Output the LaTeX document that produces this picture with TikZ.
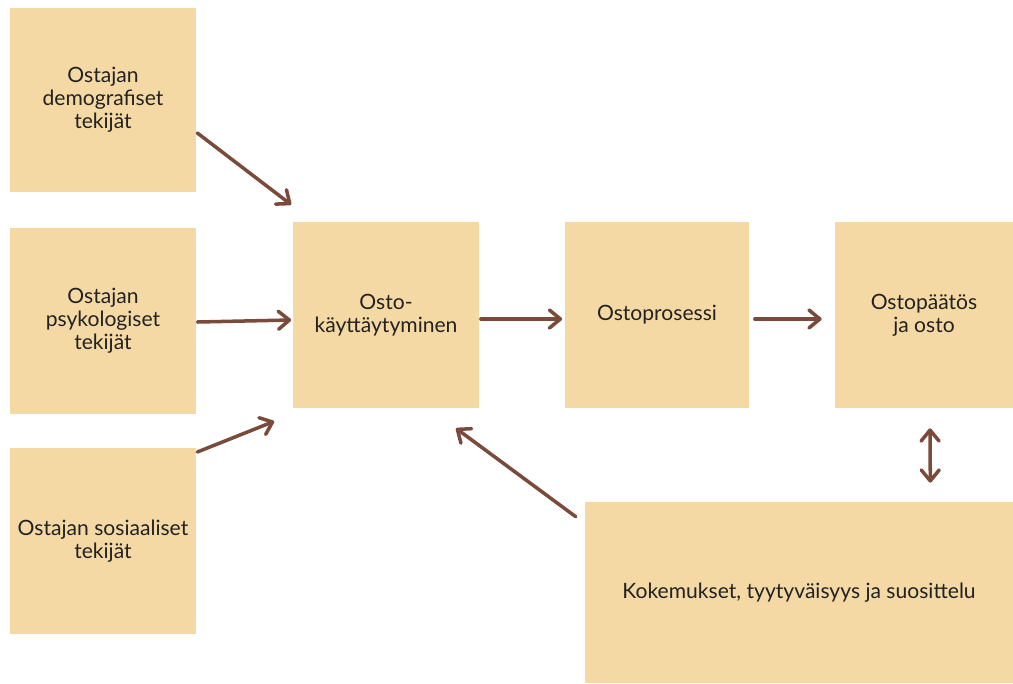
\documentclass[tikz,border=0pt]{standalone}
\usepackage{fontspec}
\setmainfont{Lato}
\usepackage{tikz}
\usetikzlibrary{arrows.meta,calc,positioning}
\definecolor{boxfill}{HTML}{F5D9A4}
\definecolor{arrowbrown}{HTML}{7A4B3B}
\definecolor{textdark}{HTML}{222222}

\begin{document}
\begin{tikzpicture}[x=0.02cm,y=-0.02cm,
  box/.style={fill=boxfill, draw=none, inner sep=0pt, align=center, text=textdark, font=\fontsize{12}{13.1}\selectfont},
  flow/.style={arrowbrown, line width=2pt, line cap=round, -{Straight Barb[length=2.2mm,width=3.6mm,round]}},
  flowboth/.style={flow, {Straight Barb[length=2.2mm,width=3.6mm,round]}-{Straight Barb[length=2.2mm,width=3.6mm,round]}}]
\useasboundingbox (0,0) rectangle (1013,683);
\node [box, minimum width=3.72cm, minimum height=3.7cm] (demog) at (103,100) {Ostajan\\demografiset\\tekijät};
\node [box, minimum width=3.72cm, minimum height=3.72cm] (psyk) at (103,321) {Ostajan\\psykologiset\\tekijät};
\node [box, minimum width=3.72cm, minimum height=3.74cm] (sos) at (103,541) {Ostajan sosiaaliset\\tekijät};
\node [box, minimum width=3.74cm, minimum height=3.72cm] (kayt) at (386,315) {Osto-\\käyttäytyminen};
\node [box, minimum width=3.7cm, minimum height=3.72cm] (prosessi) at (657,315) {Ostoprosessi};
\node [box, minimum width=3.56cm, minimum height=3.72cm] (paatos) at (924,315) {Ostopäätös\\ja osto};
\node [box, minimum width=8.56cm, minimum height=3.62cm] (kokemus) at (799,592.5) {Kokemukset, tyytyväisyys ja suosittelu};
\draw[flow] ($(demog.east)+(1,33)$) -- ($(kayt.north west)+(-1,-17)$);
\draw[flow] ($(psyk.east)+(1,1)$) -- ($(kayt.west)+(-1,5)$);
\draw[flow] ($(sos.east)+(1,-89)$) -- ($(kayt.south west)+(-18,13)$);
\draw[flow] ($(kayt.east)+(1,4)$) -- ($(prosessi.west)+(-2,4)$);
\draw[flow] ($(prosessi.east)+(5,4)$) -- ($(paatos.west)+(-13,4)$);
\draw[flowboth] ($(paatos.south)+(6,20)$) -- ($(kokemus.north east)+(-83,-19)$);
\draw[flow] ($(kokemus.north west)+(-9,15)$) -- ($(kayt.south)+(70,20)$);
\end{tikzpicture}
\end{document}
